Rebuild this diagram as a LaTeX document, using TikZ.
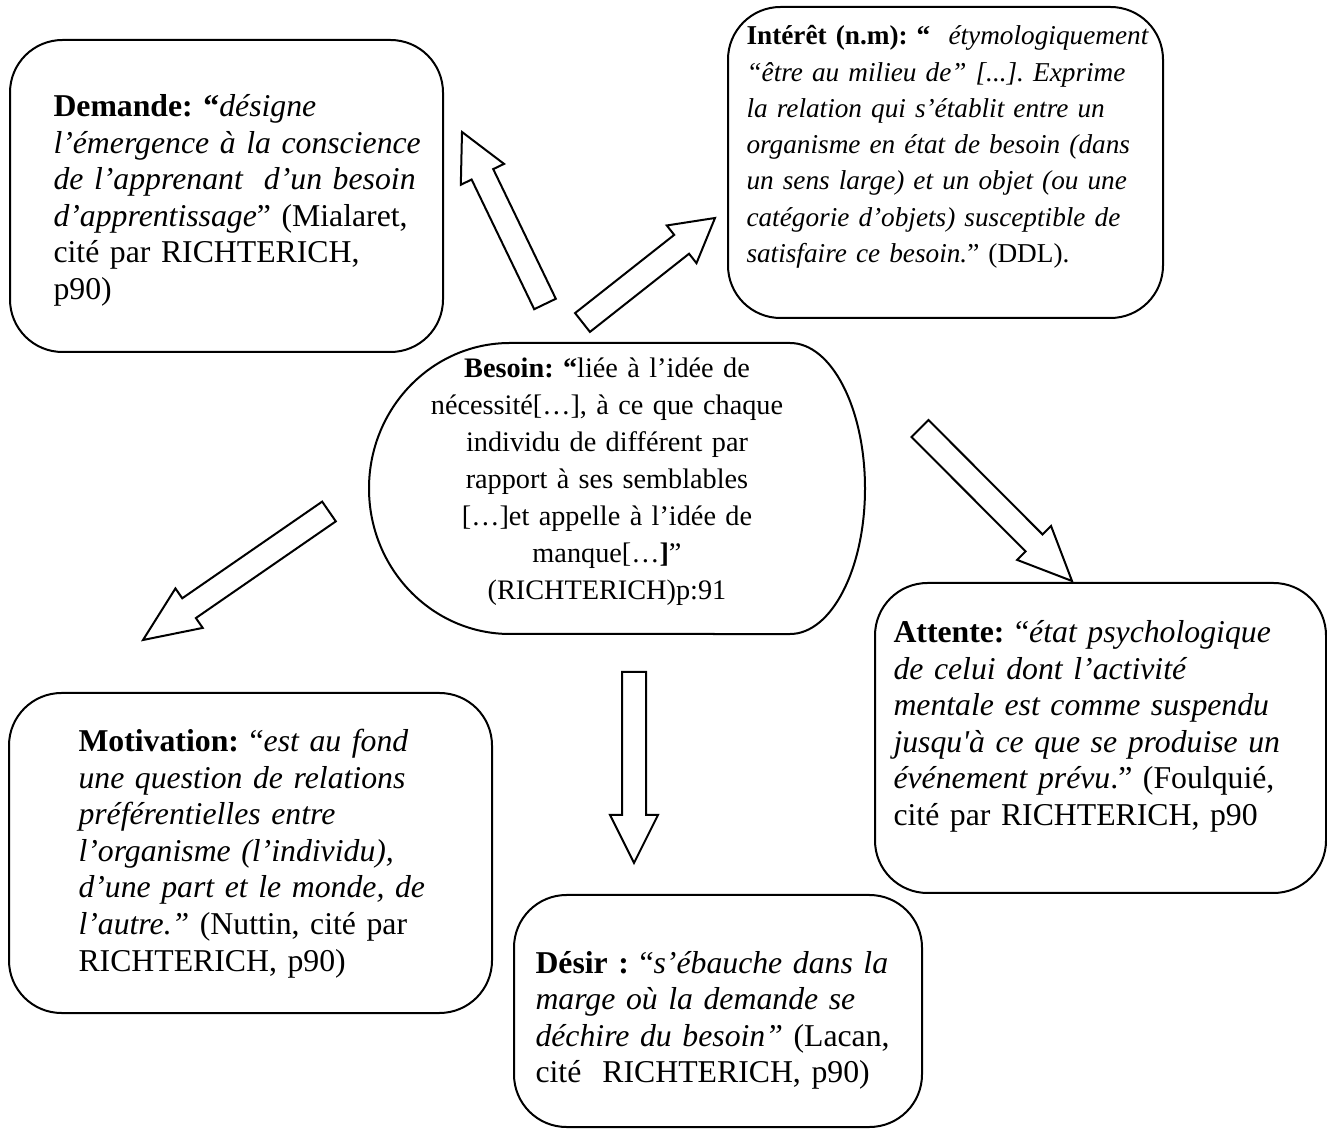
\documentclass[tikz,border=0pt]{standalone}
\usepackage{fontspec}
\newfontfamily\tnr{Liberation Serif}
\usetikzlibrary{calc,fit}
\frenchspacing

% hollow block arrow from a tail point to a tip point; #3 = head length
\newcommand\blockarrow[3]{%
  \coordinate (hb) at ($(#2)!#3!(#1)$);
  \draw[blockarr]
    ($(#1)!4.8pt!90:(#2)$) -- ($(hb)!4.8pt!90:(#2)$) -- ($(hb)!9.6pt!90:(#2)$)
    -- (#2)
    -- ($(hb)!9.6pt!-90:(#2)$) -- ($(hb)!4.8pt!-90:(#2)$) -- ($(#1)!4.8pt!-90:(#2)$)
    -- cycle;}

\begin{document}
\begin{tikzpicture}[x=0.4pt,y=-0.4pt,
  box/.style={draw, line width=0.8pt, rounded corners=21pt, inner sep=0pt},
  blockarr/.style={draw, fill=white, line width=0.8pt, line join=miter},
  txt/.style={font=\tnr\frenchspacing\fontsize{12.7}{14.6}\selectfont, inner sep=0pt,
              anchor=base west, align=left, text width=200pt},
  ctxt/.style={font=\tnr\frenchspacing\fontsize{11.3}{14.8}\selectfont, inner sep=0pt,
              anchor=base, align=center, text width=200pt}]
\useasboundingbox (0,0) rectangle (1327,1130);

% frames
\node[box, fit={(10,40) (443,352)}] (demande) {};
\node[box, fit={(728,7) (1163,318)}] (interet) {};
\node[box, fit={(9,693) (492,1013)}] (motivation) {};
\node[box, fit={(514,895) (922,1127)}] (desir) {};
\node[box, fit={(875,583) (1326,893)}] (attente) {};

% central oval
\draw[line width=0.8pt] (510,343) -- (790,343)
  arc[start angle=90, end angle=-90, x radius=30pt, y radius=58.2pt]
  -- (510,634)
  arc[start angle=270, end angle=90, x radius=56.4pt, y radius=58.2pt]
  -- cycle;
\coordinate (besoin) at (617,488);

% texts
\node[txt] (tdemande) at (53,117) {\textbf{Demande: “}\textit{désigne}\\
  \textit{l’émergence à la conscience}\\
  \textit{de l’apprenant\ \ d’un besoin}\\
  \textit{d’apprentissage}” (Mialaret,\\
  cité par RICHTERICH,\\
  p90)};

\node[txt, font=\tnr\frenchspacing\fontsize{10.9}{14.5}\selectfont] (tinteret) at (746,45)
  {\textbf{Intérêt (n.m): “}\ \ \textit{étymologiquement}\\
  \textit{“être au milieu de” [...]. Exprime}\\
  \textit{la relation qui s’établit entre un}\\
  \textit{organisme en état de besoin (dans}\\
  \textit{un sens large) et un objet (ou une}\\
  \textit{catégorie d’objets) susceptible de}\\
  \textit{satisfaire ce besoin.}” (DDL).};

\node[ctxt] (tbesoin) at (607,378) {\textbf{Besoin: “}liée à l’idée de\\
  nécessité[…], à ce que chaque\\
  individu de différent par\\
  rapport à ses semblables\\{}%
  […]et appelle à l’idée de\\
  manque[…\textbf{]}”\\
  (RICHTERICH)p:91};

\node[txt] (tmotivation) at (78,752) {\textbf{Motivation:} “\textit{est au fond}\\
  \textit{une question de relations}\\
  \textit{préférentielles entre}\\
  \textit{l’organisme (l’individu),}\\
  \textit{d’une part et le monde, de}\\
  \textit{l’autre.”} (Nuttin, cité par\\
  RICHTERICH, p90)};

\node[txt] (tdesir) at (535,973) {\textbf{Désir :} “\textit{s’ébauche dans la}\\
  \textit{marge où la demande se}\\
  \textit{déchire du besoin”} (Lacan,\\
  cité\ \ RICHTERICH, p90)};

\node[txt] (tattente) at (893,643) {\textbf{Attente:} “\textit{état psychologique}\\
  \textit{de celui dont l’activité}\\
  \textit{mentale est comme suspendu}\\
  \textit{jusqu'à ce que se produise un}\\
  \textit{événement prévu}.” (Foulquié,\\
  cité par RICHTERICH, p90};

% arrow ends
\coordinate (a1t) at (545,304);   \coordinate (a1h) at (462,132);
\coordinate (a2t) at (582.5,322.5); \coordinate (a2h) at (715,218);
\coordinate (a3t) at (329,511.5); \coordinate (a3h) at (143,640);
\coordinate (a4t) at (634,672);   \coordinate (a4h) at (634,863);
\coordinate (a5t) at (920,428.5); \coordinate (a5h) at (1072,581);

\blockarrow{a1t}{a1h}{18.8pt}
\blockarrow{a2t}{a2h}{17pt}
\blockarrow{a3t}{a3h}{22.4pt}
\blockarrow{a4t}{a4h}{19.2pt}
\blockarrow{a5t}{a5h}{21.5pt}
\end{tikzpicture}
\end{document}
